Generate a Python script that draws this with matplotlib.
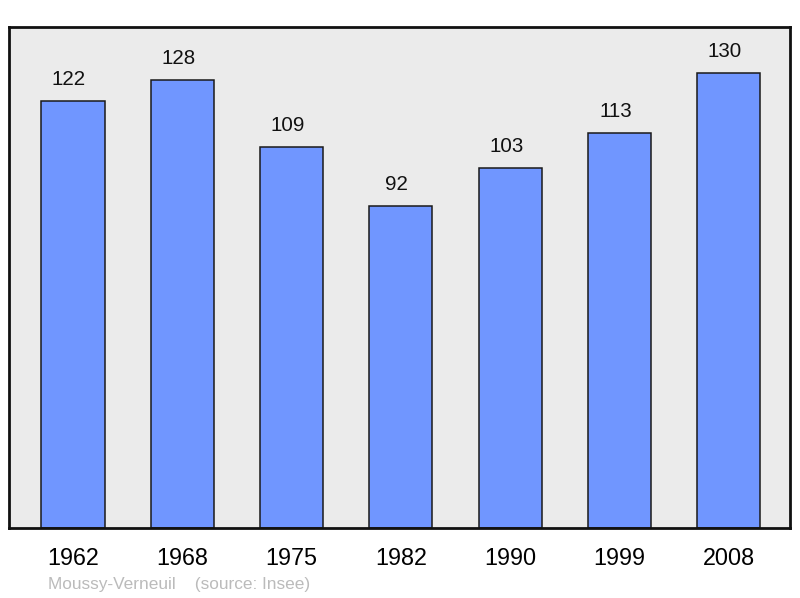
import matplotlib
matplotlib.use('Agg')
import matplotlib.pyplot as plt
import matplotlib.transforms as mtransforms
import numpy as np

# ── Data ───────────────────────────────────────────────────────────────────────
years = ["1962", "1968", "1975", "1982", "1990", "1999", "2008"]
population = [122, 128, 109, 92, 103, 113, 130]
place = "Moussy-Verneuil"
source = "(source: Insee)"

BAR_COLOR = "#7096FF"
BG_COLOR = "#EBEBEB"

plt.rcParams['font.family'] = ['Liberation Sans', 'DejaVu Sans']

# ── Plot ───────────────────────────────────────────────────────────────────────
fig = plt.figure(figsize=(8, 5.98), dpi=100)
ax = fig.add_axes([9 / 800, 1 - 528 / 598, 781 / 800, 501 / 598])
ax.set_facecolor(BG_COLOR)

x = np.arange(len(years))
ax.bar(x, population, width=0.578, color=BAR_COLOR, edgecolor='#1a1a1a',
       linewidth=1.1, zorder=2)

# value labels sit a little left of bar centre in the original
shift = mtransforms.offset_copy(ax.transData, fig=fig, x=-4, y=0, units='dots')
for xi, v in zip(x, population):
    ax.text(xi, v + 3.3, str(v), ha='center', va='bottom', fontsize=14.8,
            color='#111111', transform=shift)

ax.set_xlim(-0.585, len(years) - 1 + 0.56)
ax.set_ylim(0, 501 / 3.5)
ax.set_xticks(x)
ax.set_xticklabels(years, fontsize=16.8)
ax.tick_params(axis='x', length=0, pad=14)
ax.set_yticks([])

for s in ax.spines.values():
    s.set_linewidth(2)
    s.set_color('#111111')

fig.text(48 / 800, 1 - 584 / 598, place + "    " + source, fontsize=12.4,
         color='#BBBBBB', ha='left', va='center')

fig.savefig("out.png", dpi=100)
plt.close(fig)
